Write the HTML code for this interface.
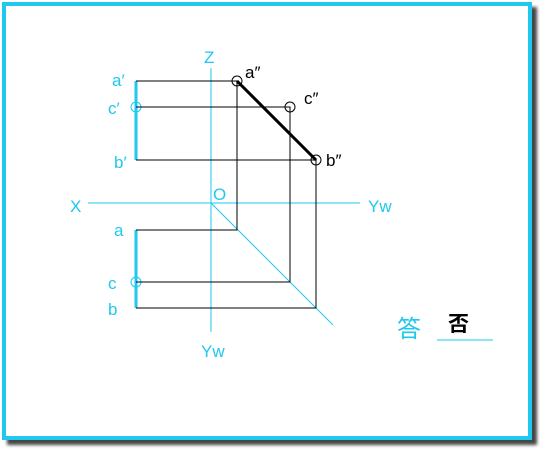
<!DOCTYPE html>
<html><head><meta charset="utf-8"><style>
html,body{margin:0;padding:0;background:#fff;width:540px;height:450px;overflow:hidden}
svg{display:block}
text{font-family:"Liberation Sans","Noto Sans CJK SC",sans-serif}
</style></head><body>
<svg width="540" height="450" viewBox="0 0 540 450">
<defs><filter id="sh" x="-5%" y="-5%" width="115%" height="115%"><feGaussianBlur stdDeviation="1.5"/></filter></defs>
<rect x="7" y="7" width="530" height="438" fill="#444" filter="url(#sh)"/>
<rect x="4" y="4" width="526" height="434" fill="#fff" stroke="#1ec8ef" stroke-width="4"/>
<g stroke="#1ec8ef" stroke-width="1" fill="none">
<line x1="211" y1="68" x2="211" y2="332"/>
<line x1="88" y1="203" x2="360" y2="203"/>
<line x1="211" y1="203" x2="333" y2="325"/>
<line x1="136" y1="81" x2="136" y2="160" stroke-width="3"/>
<line x1="136" y1="230" x2="136" y2="308" stroke-width="3"/>
<circle cx="136" cy="107" r="5"/>
<circle cx="136" cy="282" r="5"/>
<line x1="437" y1="340" x2="493" y2="340"/>
</g>
<g stroke="#000" stroke-width="1" fill="none">
<polyline points="136,81 237,81 237,230 136,230"/>
<polyline points="136,107 290,107 290,282 136,282"/>
<polyline points="136,160 316,160 316,308 136,308"/>
</g>
<line x1="237" y1="81" x2="316" y2="160" stroke="#000" stroke-width="3"/>
<g stroke="#000" fill="none">
<circle cx="237" cy="81" r="5"/>
<circle cx="290" cy="107" r="5"/>
<circle cx="316" cy="160" r="5"/>
</g>
<g fill="#1ec8ef" font-size="17">
<text x="204" y="63">Z</text>
<text x="70" y="212">X</text>
<text x="213" y="200">O</text>
<text x="368" y="212">Yw</text>
<text x="201" y="357">Yw</text>
<text x="112" y="86">a′</text>
<text x="108" y="114">c′</text>
<text x="114" y="168">b′</text>
<text x="114" y="236">a</text>
<text x="108" y="289">c</text>
<text x="108" y="315">b</text>
<text x="397" y="337" font-size="24">答</text>
</g>
<g fill="#000" font-size="17">
<text x="245" y="78">a″</text>
<text x="304" y="104">c″</text>
<text x="326" y="166">b″</text>
<text x="448" y="331" font-size="21" font-weight="bold">否</text>
</g>
</svg>
</body></html>
